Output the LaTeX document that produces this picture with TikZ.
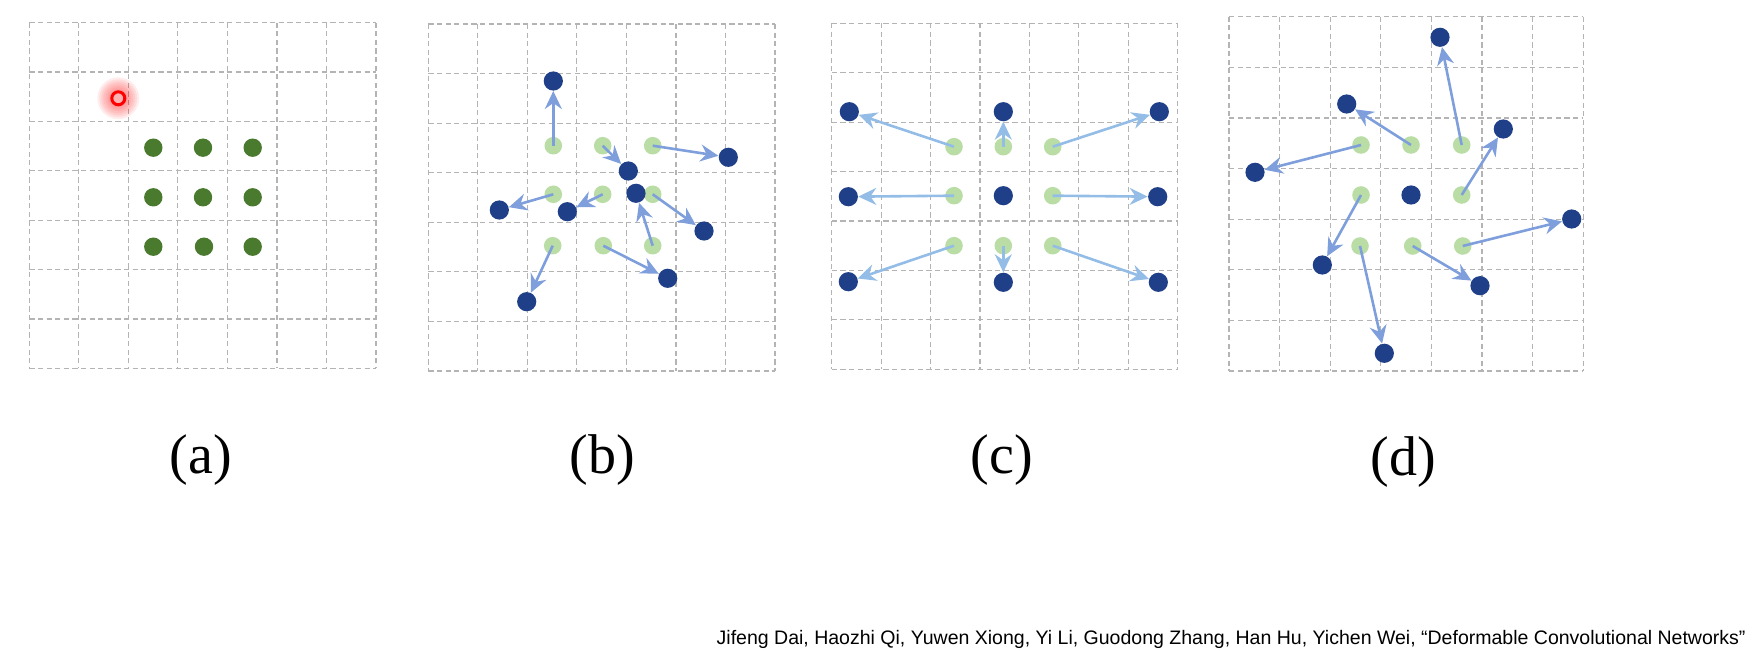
\documentclass[tikz,border=0pt]{standalone}
\usepackage{fontspec}
\setmainfont{Liberation Serif}
\newfontfamily\citefont{Liberation Sans}
\usetikzlibrary{arrows.meta}

\definecolor{gridgray}{HTML}{B4B4B4}
\definecolor{seedgreen}{HTML}{4A7A2E}
\definecolor{palegreen}{HTML}{B9DDA5}
\definecolor{navydot}{HTML}{1F3F88}
\definecolor{arrowblue}{HTML}{7F9FDC}
\definecolor{skyarrow}{HTML}{93BDE6}

\begin{document}
\begin{tikzpicture}[x=0.5pt, y=-0.5pt,
  gridline/.style={draw=gridgray, line width=0.6pt, dash pattern=on 2.6pt off 1.7pt},
  regular/.style={circle, fill=seedgreen, inner sep=0pt, minimum size=9.2pt},
  grid point/.style={circle, fill=palegreen, inner sep=0pt, minimum size=8.8pt},
  sample/.style={circle, fill=navydot, inner sep=0pt, minimum size=9.6pt},
  offarrow/.style={draw=arrowblue, line width=1.3pt, -{Stealth[length=9pt, width=8.5pt, inset=3pt]}},
  dilarrow/.style={offarrow, draw=skyarrow},
  caption/.style={font=\fontsize{28pt}{30pt}\selectfont, anchor=base},
  cite/.style={font=\citefont\fontsize{9.76pt}{11pt}\selectfont, anchor=base east, inner sep=0pt}]
\useasboundingbox (0,0) rectangle (1755,652);

% dashed 7x7 grids
\foreach \gx/\gy/\cw/\ch in {29.3/22.7/49.53/49.37, 428.3/24/49.53/49.57, 831.7/23.3/49.43/49.43, 1229/16.7/50.61/50.61}
  \foreach \k in {0,...,7} {
    \draw[gridline] ({\gx+\k*\cw},\gy) -- ({\gx+\k*\cw},{\gy+7*\ch});
    \draw[gridline] (\gx,{\gy+\k*\ch}) -- ({\gx+7*\cw},{\gy+\k*\ch});
  }

% (a) regular sampling
\node[regular] (a1) at (153.3,147.7) {};
\node[regular] (a2) at (203,147.7) {};
\node[regular] (a3) at (252.7,147.7) {};
\node[regular] (a4) at (153.3,197.3) {};
\node[regular] (a5) at (203,197.3) {};
\node[regular] (a6) at (252.7,197.3) {};
\node[regular] (a7) at (153.3,246.7) {};
\node[regular] (a8) at (204,246.7) {};
\node[regular] (a9) at (252.7,246.7) {};
\coordinate (pix) at (118.3,98.3);
\foreach \r in {21,19,...,9}
  \fill[red, opacity=0.07] (pix) circle (\r);
\node[circle, draw=red, line width=1.5pt, fill=red!30, inner sep=0pt, minimum size=6.5pt] (ring) at (pix) {};

% (b) deformed sampling
\node[grid point] (bg1) at (553.3,145.7) {};
\node[grid point] (bg2) at (602.7,145.7) {};
\node[grid point] (bg3) at (652.7,145.7) {};
\node[grid point] (bg4) at (553.3,194.3) {};
\node[grid point] (bg5) at (602.7,194.3) {};
\node[grid point] (bg6) at (652.7,194.3) {};
\node[grid point] (bg7) at (552.7,245.7) {};
\node[grid point] (bg8) at (603.3,245.7) {};
\node[grid point] (bg9) at (652.7,245.7) {};
\node[sample] (bs1) at (553.3,81) {};
\node[sample] (bs2) at (628.3,171) {};
\node[sample] (bs3) at (728.3,157.3) {};
\node[sample] (bs4) at (499.3,210) {};
\node[sample] (bs5) at (567.3,211.7) {};
\node[sample] (bs6) at (704,231) {};
\node[sample] (bs7) at (526.7,301.7) {};
\node[sample] (bs8) at (667.7,278.3) {};
\node[sample] (bs9) at (636,193.3) {};
\path[offarrow] (bg1.center) -- (bs1);
\path[offarrow] (bg2.center) -- (bs2);
\path[offarrow] (bg3.center) -- (bs3);
\path[offarrow] (bg4.center) -- (bs4);
\path[offarrow] (bg5.center) -- (bs5);
\path[offarrow] (bg6.center) -- (bs6);
\path[offarrow] (bg7.center) -- (bs7);
\path[offarrow] (bg8.center) -- (bs8);
\path[offarrow] (bg9.center) -- (bs9);

% (c) scale
\node[grid point] (cg1) at (954,146.7) {};
\node[grid point] (cg2) at (1003.3,146.7) {};
\node[grid point] (cg3) at (1052.7,146.7) {};
\node[grid point] (cg4) at (954,195.7) {};
\node[grid point] (cg6) at (1052.7,195.7) {};
\node[grid point] (cg7) at (954,245.7) {};
\node[grid point] (cg8) at (1003.3,245.7) {};
\node[grid point] (cg9) at (1052.7,245.7) {};
\node[sample] (cs1) at (849.3,111.7) {};
\node[sample] (cs2) at (1003.3,111.7) {};
\node[sample] (cs3) at (1159.3,111.7) {};
\node[sample] (cs4) at (848.3,196.7) {};
\node[sample] (cs5) at (1003.3,195.7) {};
\node[sample] (cs6) at (1157.7,196.7) {};
\node[sample] (cs7) at (848.3,281.7) {};
\node[sample] (cs8) at (1003.3,282.3) {};
\node[sample] (cs9) at (1158.3,282.3) {};
\path[dilarrow] (cg1.center) -- (cs1);
\path[dilarrow] (cg2.center) -- (cs2);
\path[dilarrow] (cg3.center) -- (cs3);
\path[dilarrow] (cg4.center) -- (cs4);
\path[dilarrow] (cg6.center) -- (cs6);
\path[dilarrow] (cg7.center) -- (cs7);
\path[dilarrow] (cg8.center) -- (cs8);
\path[dilarrow] (cg9.center) -- (cs9);

% (d) rotation
\node[grid point] (dg1) at (1361,145) {};
\node[grid point] (dg2) at (1411,145) {};
\node[grid point] (dg3) at (1461.7,145) {};
\node[grid point] (dg4) at (1361,195) {};
\node[grid point] (dg6) at (1461.7,195) {};
\node[grid point] (dg7) at (1360,246) {};
\node[grid point] (dg8) at (1412.7,246) {};
\node[grid point] (dg9) at (1462.7,246) {};
\node[sample] (ds1) at (1255,172.3) {};
\node[sample] (ds2) at (1346.7,104) {};
\node[sample] (ds3) at (1440,37.3) {};
\node[sample] (ds4) at (1322.3,265) {};
\node[sample] (ds5) at (1411,195) {};
\node[sample] (ds6) at (1503.3,129) {};
\node[sample] (ds7) at (1384.3,353.3) {};
\node[sample] (ds8) at (1480,285.7) {};
\node[sample] (ds9) at (1571.7,219) {};
\path[offarrow] (dg1.center) -- (ds1);
\path[offarrow] (dg2.center) -- (ds2);
\path[offarrow] (dg3.center) -- (ds3);
\path[offarrow] (dg4.center) -- (ds4);
\path[offarrow] (dg6.center) -- (ds6);
\path[offarrow] (dg7.center) -- (ds7);
\path[offarrow] (dg8.center) -- (ds8);
\path[offarrow] (dg9.center) -- (ds9);

% captions
\node[caption] (capa) at (201,473) {(a)};
\node[caption] (capb) at (602,473) {(b)};
\node[caption] (capc) at (1002,473) {(c)};
\node[caption] (capd) at (1403,475) {(d)};
\node[cite] (ref) at (1746,644) {Jifeng Dai, Haozhi Qi, Yuwen Xiong, Yi Li, Guodong Zhang, Han Hu, Yichen Wei, “Deformable Convolutional Networks”};
\end{tikzpicture}
\end{document}
